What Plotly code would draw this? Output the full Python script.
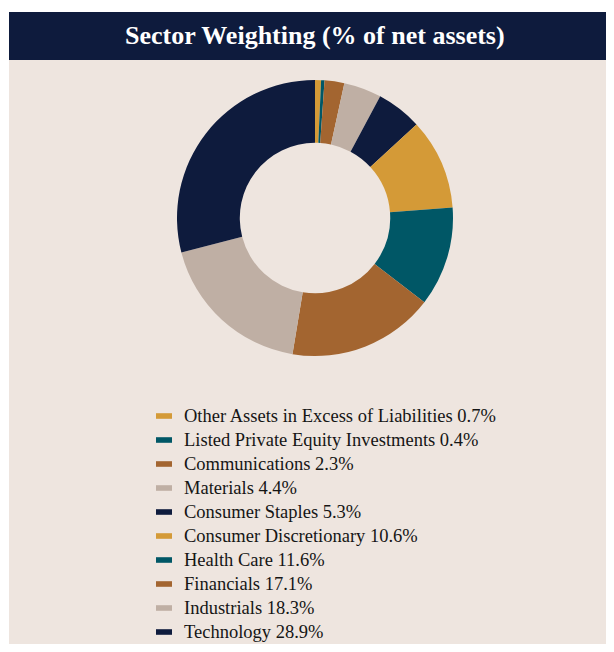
import plotly.graph_objects as go

# DATA ---------------------------------
sectors = ['Other Assets in Excess of Liabilities', 'Listed Private Equity Investments',
           'Communications', 'Materials', 'Consumer Staples', 'Consumer Discretionary',
           'Health Care', 'Financials', 'Industrials', 'Technology']
weights = [0.7, 0.4, 2.3, 4.4, 5.3, 10.6, 11.6, 17.1, 18.3, 28.9]
colors = ['#D49A37', '#005766', '#A36530', '#BFAFA4', '#0E1B3D',
          '#D49A37', '#005766', '#A36530', '#BFAFA4', '#0E1B3D']

# page has an 8px body margin, so figure is sized to fit the window exactly
W, H = 598, 636
OFF = 8
bg = '#EEE5DF'
navy = '#0E1B3D'
serif = 'Liberation Serif, Times New Roman, serif'


def px(x):
    return (x - OFF) / W


def py(y):
    return 1 - (y - OFF) / H


fig = go.Figure()

# donut -----------------------------------
cx, cy, r = 315, 218, 138
fig.add_trace(go.Pie(
    labels=sectors, values=weights, sort=False, direction='clockwise', rotation=0,
    hole=0.545, marker=dict(colors=colors, line=dict(width=0)),
    textinfo='none', hoverinfo='label+value', showlegend=False,
    domain=dict(x=[px(cx - r), px(cx + r)], y=[py(cy + r), py(cy - r)])
))

# background panel and title bar ----------
fig.add_shape(type='rect', xref='paper', yref='paper', x0=px(9), x1=1, y0=0, y1=py(12),
              fillcolor=bg, line_width=0, layer='below')
fig.add_shape(type='rect', xref='paper', yref='paper', x0=px(9), x1=1, y0=py(60), y1=py(12),
              fillcolor=navy, line_width=0, layer='below')
fig.add_annotation(xref='paper', yref='paper', x=px(315), y=py(35), xanchor='center', yanchor='middle',
                   text='<b>Sector Weighting (% of net assets)</b>', showarrow=False,
                   font=dict(family=serif, size=26, color='white'))

# legend (flat swatches + labels), squeezed a little so the last row stays on the page
row0, step = 416, 24.0
for i, (name, val, c) in enumerate(zip(sectors, weights, colors)):
    yc = row0 + i * step
    fig.add_shape(type='rect', xref='paper', yref='paper', x0=px(156), x1=px(172),
                  y0=py(yc + 2.8), y1=py(yc - 2.8), fillcolor=c, line_width=0)
    fig.add_annotation(xref='paper', yref='paper', x=px(182), y=py(yc), xanchor='left', yanchor='middle',
                       text=f'{name} {val}%', showarrow=False,
                       font=dict(family=serif, size=18.5, color='#151515'))

fig.update_layout(
    width=W, height=H,
    margin=dict(l=0, r=0, t=0, b=0),
    paper_bgcolor='white',
    showlegend=False,
)

fig.write_html('out.html')
